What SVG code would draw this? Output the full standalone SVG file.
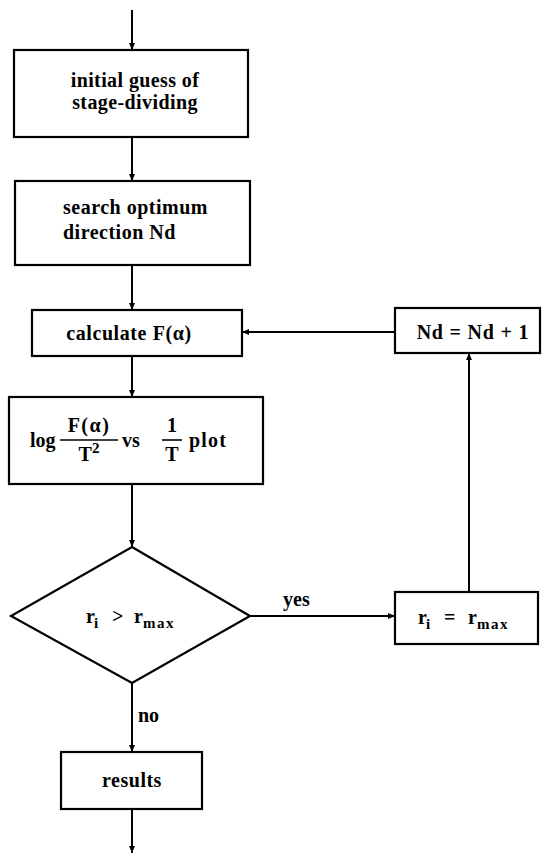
<svg xmlns="http://www.w3.org/2000/svg" width="542" height="855" viewBox="0 0 542 855">
<defs>
<marker id="ah" markerWidth="8" markerHeight="8" refX="7" refY="4" orient="auto" markerUnits="userSpaceOnUse">
<path d="M0,1 L7,4 L0,7 Z" fill="#000"/>
</marker>
<style>
.box{fill:#fff;stroke:#000;stroke-width:2.2}
.ln{fill:none;stroke:#000;stroke-width:2;marker-end:url(#ah)}
text{font-family:'Liberation Serif','Times New Roman','DejaVu Serif',serif;font-size:20px;font-weight:bold;fill:#000}
.c{text-anchor:middle}
.s{font-size:15px}
</style>
</defs>
<rect width="542" height="855" fill="#fff"/>
<g id="connectors">
<line class="ln" x1="132" y1="10" x2="132" y2="50"/>
<line class="ln" x1="132" y1="137" x2="132" y2="181"/>
<line class="ln" x1="132" y1="265" x2="132" y2="310"/>
<line class="ln" x1="132" y1="356" x2="132" y2="397"/>
<line class="ln" x1="132" y1="484" x2="132" y2="547"/>
<line class="ln" x1="132" y1="683" x2="132" y2="752"/>
<line class="ln" x1="132" y1="809" x2="132" y2="853"/>
<line class="ln" x1="250" y1="616" x2="395" y2="616"/>
<line class="ln" x1="469" y1="592" x2="469" y2="353"/>
<line class="ln" x1="395" y1="332" x2="242" y2="332"/>
<text x="283" y="606">yes</text>
<text x="138" y="722">no</text>
</g>
<g id="initial">
<rect class="box" x="14" y="50" width="234" height="87"/>
<text class="c" x="135" y="87" letter-spacing="0.4">initial guess of</text>
<text class="c" x="135" y="109" letter-spacing="0.4">stage-dividing</text>
</g>
<g id="search">
<rect class="box" x="15" y="181" width="235" height="84"/>
<text x="63" y="214" letter-spacing="0.5">search optimum</text>
<text x="63" y="239" letter-spacing="0.5">direction Nd</text>
</g>
<g id="calculate">
<rect class="box" x="32" y="310" width="210" height="46"/>
<text class="c" x="129" y="340" letter-spacing="0.6">calculate F(α)</text>
</g>
<g id="plot">
<rect class="box" x="9" y="397" width="254" height="87"/>
<text x="30" y="447">log</text>
<text class="c" x="89" y="432" letter-spacing="1.5">F(α)</text>
<line x1="60" y1="440" x2="118" y2="440" stroke="#000" stroke-width="1.6"/>
<text class="c" x="89" y="461">T<tspan class="s" dy="-8">2</tspan></text>
<text x="122" y="447">vs</text>
<text class="c" x="172" y="432">1</text>
<line x1="162" y1="440" x2="182" y2="440" stroke="#000" stroke-width="1.6"/>
<text class="c" x="172" y="461">T</text>
<text x="189" y="447" letter-spacing="1.2">plot</text>
</g>
<g id="decision">
<polygon class="box" points="132,547 250,616 132,683 11,616"/>
<text x="86" y="623">r<tspan class="s" x="94" dy="5">i</tspan><tspan x="112" dy="-5">&gt;</tspan><tspan x="134">r</tspan><tspan class="s" x="143" dy="5" letter-spacing="1.5">max</tspan></text>
</g>
<g id="nd">
<rect class="box" x="395" y="308" width="145" height="45"/>
<text class="c" x="473" y="339" letter-spacing="0.8">Nd = Nd + 1</text>
</g>
<g id="rmax">
<rect class="box" x="395" y="592" width="143" height="52"/>
<text x="418" y="624">r<tspan class="s" x="426" dy="5">i</tspan><tspan x="444" dy="-5">=</tspan><tspan x="468">r</tspan><tspan class="s" x="477" dy="5" letter-spacing="1.5">max</tspan></text>
</g>
<g id="results">
<rect class="box" x="61" y="752" width="141" height="57"/>
<text class="c" x="132" y="787" letter-spacing="0.5">results</text>
</g>
</svg>
